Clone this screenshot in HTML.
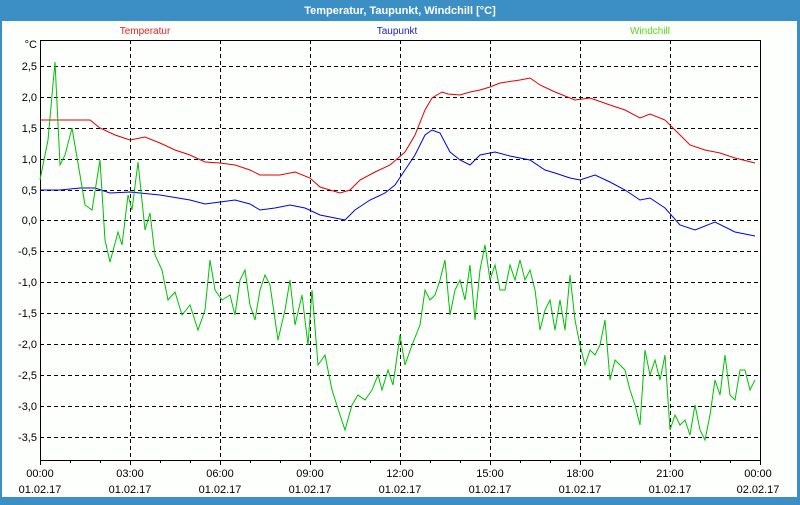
<!DOCTYPE html>
<html><head><meta charset="utf-8"><style>
body{margin:0;width:800px;height:500px;overflow:hidden;background:#3c8fc5;font-family:"Liberation Sans",sans-serif}
</style></head><body>
<svg width="800" height="500" xmlns="http://www.w3.org/2000/svg" font-family="Liberation Sans, sans-serif">
<rect x="0" y="0" width="800" height="500" fill="#3c8fc5"/>
<rect x="2" y="21" width="795" height="476" fill="#fdfffd"/>
<text x="400" y="14" font-size="11" font-weight="bold" fill="#fff" text-anchor="middle">Temperatur, Taupunkt, Windchill [°C]</text>
<text x="145" y="34" font-size="10" fill="#e02020" text-anchor="middle">Temperatur</text>
<text x="397" y="34" font-size="10" fill="#2020c0" text-anchor="middle">Taupunkt</text>
<text x="650" y="34" font-size="10" fill="#60d020" text-anchor="middle">Windchill</text>
<text x="37" y="48" font-size="11" text-anchor="end">°C</text>
<g stroke="#000" stroke-dasharray="4,3" stroke-width="1">
<line x1="40" x2="760" y1="66.5" y2="66.5"/><line x1="40" x2="760" y1="97.5" y2="97.5"/><line x1="40" x2="760" y1="128.5" y2="128.5"/><line x1="40" x2="760" y1="159.5" y2="159.5"/><line x1="40" x2="760" y1="190.5" y2="190.5"/><line x1="40" x2="760" y1="220.5" y2="220.5"/><line x1="40" x2="760" y1="251.5" y2="251.5"/><line x1="40" x2="760" y1="282.5" y2="282.5"/><line x1="40" x2="760" y1="313.5" y2="313.5"/><line x1="40" x2="760" y1="344.5" y2="344.5"/><line x1="40" x2="760" y1="375.5" y2="375.5"/><line x1="40" x2="760" y1="406.5" y2="406.5"/><line x1="40" x2="760" y1="437.5" y2="437.5"/>
<line y1="40" y2="460" x1="130.5" x2="130.5"/><line y1="40" y2="460" x1="220.5" x2="220.5"/><line y1="40" y2="460" x1="310.5" x2="310.5"/><line y1="40" y2="460" x1="400.5" x2="400.5"/><line y1="40" y2="460" x1="490.5" x2="490.5"/><line y1="40" y2="460" x1="580.5" x2="580.5"/><line y1="40" y2="460" x1="670.5" x2="670.5"/>
</g>
<rect x="40.5" y="40.5" width="720" height="420" fill="none" stroke="#000" stroke-width="1"/>
<g stroke="#000"><path d="M40.5 460v5M70.5 460v3M100.5 460v3M130.5 460v5M160.5 460v3M190.5 460v3M220.5 460v5M250.5 460v3M280.5 460v3M310.5 460v5M340.5 460v3M370.5 460v3M400.5 460v5M430.5 460v3M460.5 460v3M490.5 460v5M520.5 460v3M550.5 460v3M580.5 460v5M610.5 460v3M640.5 460v3M670.5 460v5M700.5 460v3M730.5 460v3M760.5 460v5"/></g>
<g font-size="11" text-anchor="end" fill="#000">
<text x="37" y="70">2,5</text><text x="37" y="101">2,0</text><text x="37" y="132">1,5</text><text x="37" y="163">1,0</text><text x="37" y="194">0,5</text><text x="37" y="224">0,0</text><text x="37" y="255">-0,5</text><text x="37" y="286">-1,0</text><text x="37" y="317">-1,5</text><text x="37" y="348">-2,0</text><text x="37" y="379">-2,5</text><text x="37" y="410">-3,0</text><text x="37" y="441">-3,5</text>
</g>
<g font-size="11" text-anchor="middle" fill="#000">
<text x="40" y="477">00:00</text><text x="40" y="493">01.02.17</text>
<text x="130" y="477">03:00</text><text x="130" y="493">01.02.17</text>
<text x="220" y="477">06:00</text><text x="220" y="493">01.02.17</text>
<text x="310" y="477">09:00</text><text x="310" y="493">01.02.17</text>
<text x="400" y="477">12:00</text><text x="400" y="493">01.02.17</text>
<text x="490" y="477">15:00</text><text x="490" y="493">01.02.17</text>
<text x="580" y="477">18:00</text><text x="580" y="493">01.02.17</text>
<text x="670" y="477">21:00</text><text x="670" y="493">01.02.17</text>
<text x="758" y="477">00:00</text><text x="758" y="493">02.02.17</text>
</g>
<polyline fill="none" stroke="#e00000" stroke-width="1" points="40,120 90,120 100,128 115,135 130,140 145,137 160,143 175,150 190,155 205,162 220,163 235,165 250,170 260,175 280,175 295,172 310,178 320,187 340,193 350,190 360,180 375,172 390,165 405,152 415,135 425,110 432,98 442,92 448,94 460,95 470,92 480,90 490,87 500,83 520,80 530,78 540,85 555,92 575,100 590,98 610,105 625,110 640,118 650,114 665,120 675,130 690,145 705,150 720,153 735,158 755,163"/>
<polyline fill="none" stroke="#0000e0" stroke-width="1" points="40,190 60,190 80,188 95,188 110,193 130,192 160,195 190,200 205,204 220,202 235,200 250,204 260,210 275,208 290,205 305,208 320,215 335,218 345,220 355,210 370,200 385,193 395,185 405,170 415,155 425,135 432,130 440,133 450,152 460,160 470,165 480,155 495,152 510,156 530,160 545,170 555,173 570,178 580,180 595,175 610,182 625,190 640,200 650,198 665,208 680,225 695,230 715,222 735,232 755,236"/>
<polyline fill="none" stroke="#00c000" stroke-width="1" points="40,180 48,140 55,62 60,165 65,155 72,128 80,175 85,205 92,210 100,160 105,240 110,262 118,232 122,245 128,195 132,210 138,162 145,230 150,213 155,255 162,270 168,300 175,292 182,315 190,305 198,330 205,310 210,260 215,290 222,300 230,295 235,315 240,280 245,270 250,305 255,320 260,290 265,275 270,285 278,340 285,310 290,280 295,325 302,295 308,345 312,290 318,365 325,355 332,390 340,415 345,430 352,405 358,395 365,400 372,390 378,375 382,390 388,370 393,385 400,335 405,365 412,345 420,325 425,290 430,300 435,295 440,280 445,260 450,315 455,290 460,280 465,300 470,265 475,320 480,270 485,245 490,280 495,265 500,290 505,290 510,265 515,280 520,260 525,280 530,270 535,290 540,330 545,310 550,300 555,330 560,300 565,330 570,275 575,320 580,345 585,365 590,350 595,355 600,345 605,320 610,380 615,360 620,365 625,370 630,390 635,405 640,425 645,350 650,375 655,360 660,380 665,355 670,430 675,415 680,425 685,420 690,435 695,405 700,430 705,440 710,415 715,380 720,395 725,355 730,395 735,400 740,370 745,370 750,390 755,380"/>
</svg>
</body></html>
